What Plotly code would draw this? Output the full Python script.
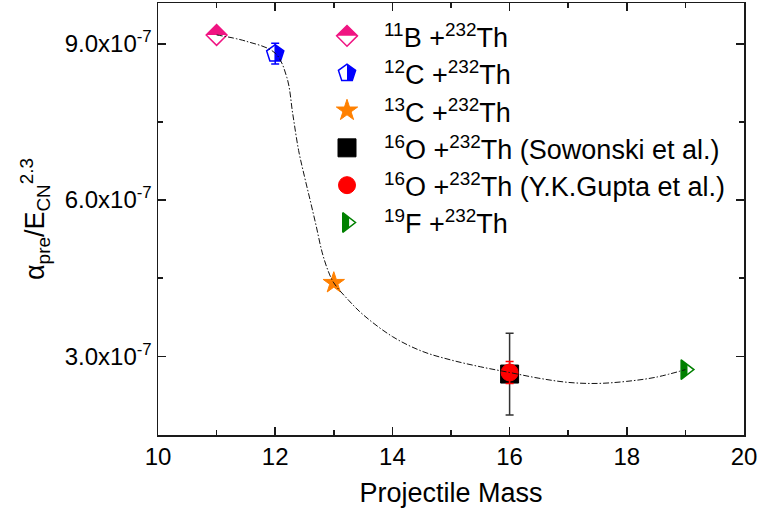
import plotly.graph_objects as go

# ---------------- data ----------------
B11_X = [11]
B11_Y = [9.17e-7]

C12_X = [12]
C12_Y = [8.81e-7]
C12_ERR = [0.20e-7]

C13_X = [13]
C13_Y = [4.41e-7]

O16S_X = [16]
O16S_Y = [2.66e-7]
O16S_ERR = [0.785e-7]

O16G_X = [16]
O16G_Y = [2.69e-7]
O16G_ERR = [0.21e-7]

F19_X = [19]
F19_Y = [2.745e-7]

# dash-dot guide curve
CURVE_X = [11.0, 11.5, 12.0, 12.2, 12.3, 12.4, 12.5, 12.6, 12.7, 12.8, 12.9, 13.0,
           13.25, 13.5, 14.0, 14.5, 15.0, 15.5, 16.0, 16.5, 17.0, 17.5, 18.0, 18.5, 19.0]
CURVE_Y = [9.17e-7, 9.05e-7, 8.82e-7, 8.35e-7, 7.65e-7, 6.95e-7, 6.45e-7, 5.98e-7, 5.50e-7,
           5.00e-7, 4.65e-7, 4.41e-7, 4.08e-7, 3.80e-7, 3.38e-7, 3.10e-7, 2.93e-7, 2.80e-7,
           2.69e-7, 2.58e-7, 2.50e-7, 2.48e-7, 2.52e-7, 2.60e-7, 2.745e-7]

LEGEND_LABELS = [
    "<sup>11</sup>B +<sup>232</sup>Th",
    "<sup>12</sup>C +<sup>232</sup>Th",
    "<sup>13</sup>C +<sup>232</sup>Th",
    "<sup>16</sup>O +<sup>232</sup>Th (Sowonski et al.)",
    "<sup>16</sup>O +<sup>232</sup>Th (Y.K.Gupta et al.)",
    "<sup>19</sup>F +<sup>232</sup>Th",
]

X_TITLE = "Projectile Mass"
Y_TITLE = "α<sub>pre</sub>/E<sub>CN</sub><sup>2.3</sup>"
Y_TICK_VALS = [3e-7, 6e-7, 9e-7]
Y_TICK_TEXT = ["3.0x10<sup>-7</sup>", "6.0x10<sup>-7</sup>", "9.0x10<sup>-7</sup>"]
Y_MINOR_VALS = [1.5e-7, 4.5e-7, 7.5e-7]

# ---------------- style ----------------
FONT = "Liberation Sans, Arial, Helvetica, sans-serif"
PINK = "#F01482"
BLUE = "#0000FF"
ORANGE = "#FF8000"
BLACK = "#000000"
RED = "#FF0000"
GREEN = "#008000"
AXC = "#1a1a1a"

W, H = 759, 520
ML, MR, MT, MB = 158, 15, 1, 85

# legend placement (pixel units of the plot area)
LEG_MARK_X = 347
LEG_TEXT_X = 382
LEG_Y0 = 34
LEG_DY = 37.5

fig = go.Figure()


def stack(x, y, layers, axes=("x", "y"), err=None, errcolor=None):
    n = len(layers)
    for i, mk in enumerate(layers):
        kw = {}
        if err is not None and i == n - 1:
            kw["error_y"] = dict(type="data", array=err, visible=True,
                                 color=errcolor, thickness=1.5, width=4)
        fig.add_trace(go.Scatter(x=x, y=y, mode="markers", marker=mk,
                                 xaxis=axes[0], yaxis=axes[1],
                                 showlegend=False, hoverinfo="skip", **kw))


S_D, S_P, S_ST, S_SQ, S_C, S_T = 16, 18, 16, 18, 17, 17


def layers_b11():
    return [
        dict(symbol="diamond", size=S_D, color=PINK, line=dict(color=PINK, width=0)),
        dict(symbol="triangle-down", size=1.125 * S_D, standoff=0.28125 * S_D,
             color="white", line=dict(width=0)),
        dict(symbol="diamond-open", size=S_D, color=PINK, line=dict(color=PINK, width=1.5)),
    ]


def layers_c12():
    return [
        dict(symbol="pentagon", size=S_P, color=BLUE, line=dict(width=0)),
        dict(symbol="square", size=0.905 * S_P, angle=90, standoff=0.4525 * S_P,
             color="white", line=dict(width=0)),
        dict(symbol="pentagon-open", size=S_P, color=BLUE, line=dict(color=BLUE, width=1.5)),
    ]


def layers_c13():
    return [dict(symbol="star", size=S_ST, color=ORANGE, line=dict(color=ORANGE, width=1))]


def layers_o16s():
    return [dict(symbol="square", size=S_SQ, color=BLACK, line=dict(color=BLACK, width=1))]


def layers_o16g():
    return [dict(symbol="circle", size=S_C, color=RED, line=dict(color=RED, width=1))]


def layers_f19():
    return [
        dict(symbol="triangle-right", size=S_T, color=GREEN, line=dict(width=0)),
        dict(symbol="triangle-down", size=S_T / 2, angle=270, standoff=S_T / 4,
             color="white", line=dict(width=0)),
        dict(symbol="triangle-right-open", size=S_T, color=GREEN,
             line=dict(color=GREEN, width=1.5)),
    ]


# data markers
stack(B11_X, B11_Y, layers_b11())
stack(C12_X, C12_Y, layers_c12(), err=C12_ERR, errcolor=BLUE)
stack(C13_X, C13_Y, layers_c13())
stack(O16S_X, O16S_Y, layers_o16s(), err=O16S_ERR, errcolor="#333333")
stack(O16G_X, O16G_Y, layers_o16g(), err=O16G_ERR, errcolor=RED)
stack(F19_X, F19_Y, layers_f19())

# guide curve drawn on top
fig.add_trace(go.Scatter(x=CURVE_X, y=CURVE_Y, mode="lines",
                         line=dict(color="#111111", width=1, dash="6px,2px,1.5px,2px",
                                   shape="spline", smoothing=1.0),
                         showlegend=False, hoverinfo="skip"))

# custom legend (so half-filled symbols match the plot)
legend_layers = [layers_b11(), layers_c12(), layers_c13(), layers_o16s(), layers_o16g(), layers_f19()]
for i, (lab, lay) in enumerate(zip(LEGEND_LABELS, legend_layers)):
    yy = LEG_Y0 + i * LEG_DY
    stack([LEG_MARK_X], [yy], lay, axes=("x2", "y2"))
    fig.add_annotation(x=LEG_TEXT_X, y=yy, xref="x2", yref="y2", text=lab,
                       showarrow=False, xanchor="left", yanchor="middle",
                       font=dict(family=FONT, size=27, color="#000"))

axis_common = dict(
    showline=True, linecolor=AXC, linewidth=1.5, mirror="ticks",
    ticks="inside", ticklen=8, tickwidth=1.5, tickcolor=AXC,
    showgrid=False, zeroline=False,
    tickfont=dict(family=FONT, size=24, color="#000"),
)

fig.update_layout(
    width=W, height=H,
    margin=dict(l=ML, r=MR, t=MT, b=MB),
    paper_bgcolor="white", plot_bgcolor="white",
    font=dict(family=FONT, color="#000"),
    xaxis=dict(range=[10, 20], dtick=2, tick0=10,
               minor=dict(dtick=1, ticks="inside", ticklen=5, tickwidth=1.5, tickcolor=AXC),
               title=dict(text=X_TITLE, font=dict(family=FONT, size=27), standoff=14),
               **axis_common),
    yaxis=dict(range=[1.49e-7, 9.783e-7], tickmode="array", tickvals=Y_TICK_VALS,
               ticktext=Y_TICK_TEXT,
               minor=dict(tickvals=Y_MINOR_VALS, ticks="inside", ticklen=5, tickwidth=1.5,
                          tickcolor=AXC),
               title=dict(text=Y_TITLE, font=dict(family=FONT, size=27), standoff=12),
               **axis_common),
    xaxis2=dict(range=[ML, W - MR], overlaying="x", visible=False, anchor="y2"),
    yaxis2=dict(range=[H - MB, MT], overlaying="y", visible=False, anchor="x2"),
    showlegend=False,
)

fig.write_html("out.html", config={"displayModeBar": False, "staticPlot": True},
               post_script="document.body.style.margin='0px';document.body.style.padding='0px';")
